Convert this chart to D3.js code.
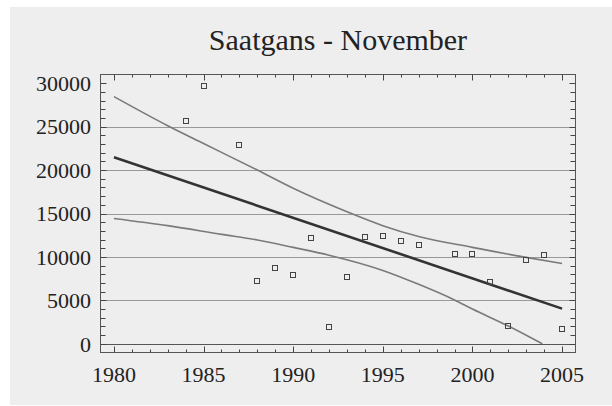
<!DOCTYPE html>
<html>
<head>
<meta charset="utf-8">
<script src="https://cdn.jsdelivr.net/npm/d3@7"></script>
<style>
    body { margin: 0; background: #fff; }
    text { font-family: "Liberation Serif", "DejaVu Serif", serif; fill: #222; }
</style>
</head>
<body>
<svg width="612" height="406"></svg>
<script>
// observed counts
var years = [1984, 1985, 1987, 1988, 1989, 1990, 1991, 1992, 1993, 1994, 1995, 1996, 1997, 1999, 2000, 2001, 2002, 2003, 2004, 2005];
var counts = [25600, 29700, 22850, 7250, 8700, 7900, 12150, 1950, 7700, 12250, 12400, 11830, 11350, 10380, 10380, 7100, 2080, 9600, 10180, 1750];

// regression line + confidence band
var fitYears = [1980, 2005];
var fitValues = [21480, 4050];
var upperYears = [1980, 1983, 1985, 1988, 1990, 1993, 1995, 1997, 2000, 2003, 2005];
var upperValues = [28450, 25100, 23050, 20000, 17900, 15200, 13600, 12350, 11100, 9950, 9250];
var lowerYears = [1980, 1983, 1986, 1988, 1990, 1992, 1995, 1997, 1999, 2000, 2002, 2003.9];
var lowerValues = [14430, 13600, 12600, 11950, 11100, 10200, 8450, 6850, 5050, 4000, 2050, 0];

var xTicks = [1980, 1985, 1990, 1995, 2000, 2005];
var yTicks = [0, 5000, 10000, 15000, 20000, 25000, 30000];
var title = "Saatgans - November";

var svg = d3.select("svg");

svg.append("rect")
    .attr("x", 10).attr("y", 7)
    .attr("width", 602).attr("height", 398)
    .attr("fill", "#eeeeee");

// plot frame
var pLeft = 100.5, pRight = 575.5, pTop = 74.5, pBottom = 352.5;

var x = d3.scaleLinear().domain([1979.25, 2005.75]).range([pLeft, pRight]);
var y = d3.scaleLinear().domain([-1000, 31000]).range([pBottom, pTop]);

svg.append("text")
    .attr("x", 338)
    .attr("y", 50)
    .attr("text-anchor", "middle")
    .style("font-size", "30px")
    .text(title);

// grid lines
svg.append("g").selectAll("line")
    .data(yTicks.filter(function(d) { return d < 30000; }))
    .enter().append("line")
    .attr("x1", pLeft).attr("x2", pRight)
    .attr("y1", function(d) { return Math.round(y(d)) + 0.5; })
    .attr("y2", function(d) { return Math.round(y(d)) + 0.5; })
    .attr("stroke", function(d) { return d === 0 ? "#555" : "#999"; })
    .attr("stroke-width", 1);

// minor/major ticks on all four sides
var yearTicks = d3.range(1980, 2006);
var valTicks = d3.range(0, 31000, 1000);
var ticks = svg.append("g").attr("stroke", "#444").attr("stroke-width", 1);

ticks.selectAll(".xb").data(yearTicks).enter().append("line")
    .attr("x1", function(d) { return Math.round(x(d)) + 0.5; })
    .attr("x2", function(d) { return Math.round(x(d)) + 0.5; })
    .attr("y1", pBottom)
    .attr("y2", function(d) { return pBottom - (d % 5 === 0 ? 6 : 3); });

ticks.selectAll(".xt").data(yearTicks).enter().append("line")
    .attr("x1", function(d) { return Math.round(x(d)) + 0.5; })
    .attr("x2", function(d) { return Math.round(x(d)) + 0.5; })
    .attr("y1", pTop)
    .attr("y2", function(d) { return pTop + (d % 5 === 0 ? 6 : 3); });

ticks.selectAll(".yl").data(valTicks).enter().append("line")
    .attr("y1", function(d) { return Math.round(y(d)) + 0.5; })
    .attr("y2", function(d) { return Math.round(y(d)) + 0.5; })
    .attr("x1", pLeft)
    .attr("x2", function(d) { return pLeft + (d % 5000 === 0 ? 6 : 5); });

ticks.selectAll(".yr").data(valTicks).enter().append("line")
    .attr("y1", function(d) { return Math.round(y(d)) + 0.5; })
    .attr("y2", function(d) { return Math.round(y(d)) + 0.5; })
    .attr("x1", pRight)
    .attr("x2", function(d) { return pRight - (d % 5000 === 0 ? 6 : 5); });

svg.append("rect")
    .attr("x", pLeft).attr("y", pTop)
    .attr("width", pRight - pLeft).attr("height", pBottom - pTop)
    .attr("fill", "none")
    .attr("stroke", "#555");

// tick labels
svg.append("g").selectAll("text")
    .data(xTicks)
    .enter().append("text")
    .attr("x", function(d) { return x(d); })
    .attr("y", 382)
    .attr("text-anchor", "middle")
    .style("font-size", "22px")
    .text(function(d) { return d; });

svg.append("g").selectAll("text")
    .data(yTicks)
    .enter().append("text")
    .attr("x", 91)
    .attr("y", function(d) { return y(d); })
    .attr("dy", "0.35em")
    .attr("text-anchor", "end")
    .style("font-size", "22px")
    .text(function(d) { return d; });

var plot = svg.append("g");

var line = d3.line()
    .x(function(d) { return x(d[0]); })
    .y(function(d) { return y(d[1]); })
    .curve(d3.curveMonotoneX);

plot.append("path")
    .datum(d3.zip(upperYears, upperValues))
    .attr("d", line)
    .attr("fill", "none")
    .attr("stroke", "#7a7a7a")
    .attr("stroke-width", 1.6);

plot.append("path")
    .datum(d3.zip(lowerYears, lowerValues))
    .attr("d", line)
    .attr("fill", "none")
    .attr("stroke", "#7a7a7a")
    .attr("stroke-width", 1.6);

plot.append("path")
    .datum(d3.zip(fitYears, fitValues))
    .attr("d", line)
    .attr("fill", "none")
    .attr("stroke", "#333")
    .attr("stroke-width", 2.6);

plot.selectAll("rect")
    .data(d3.zip(years, counts))
    .enter().append("rect")
    .attr("x", function(d) { return Math.round(x(d[0])) - 2.5; })
    .attr("y", function(d) { return Math.round(y(d[1])) - 2.5; })
    .attr("width", 5)
    .attr("height", 5)
    .attr("fill", "none")
    .attr("stroke", "#444")
    .attr("stroke-width", 1);
</script>
</body>
</html>
